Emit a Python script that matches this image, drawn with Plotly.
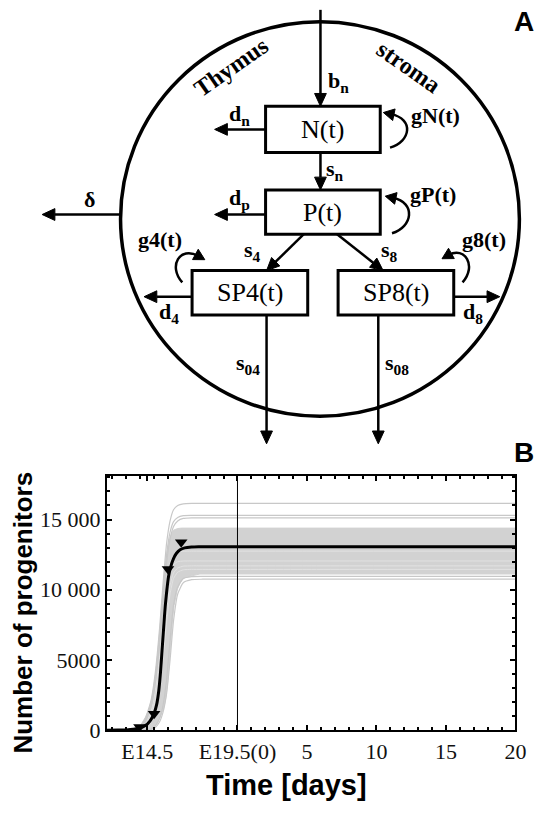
import math
import plotly.graph_objects as go

# ---------------- data (panel B) ----------------
black_days = [-9.4, -8.6, -8.0, -7.5, -7.08, -6.6, -6.3, -6.02, -5.82, -5.66, -5.54, -5.43, -5.31,
              -5.20, -5.08, -4.96, -4.8, -4.61, -4.4, -4.13, -3.8, -3.31, -2.8, 5, 20]
black_vals = [0, 5, 20, 60, 140, 350, 650, 1145, 1800, 2826, 4100, 5630, 7300,
              8800, 10000, 10950, 11650, 12200, 12580, 12840, 12980, 13040, 13060, 13060, 13060]

obs_days = [-7.05, -6.0, -5.0, -4.05]
obs_vals = [230, 1170, 11470, 13385]

band_upper_days = [-7.4, -7.0, -6.61, -6.35, -6.14, -5.95, -5.78, -5.65, -5.55, -5.45, -5.38, -5.28, -5.2,
                   -5.08, -4.96, -4.8, -4.61, -4.3, -4.02, 20]
band_upper_vals = [0, 300, 940, 1550, 2340, 3400, 4670, 5800, 7010, 8200, 9340, 10600, 11670,
                   12600, 13300, 13850, 14240, 14360, 14390, 14390]
band_lower_days = [-6.3, -5.9, -5.55, -5.3, -5.15, -5.02, -4.92, -4.83, -4.75, -4.66, -4.56, -4.44, -4.32,
                   -4.12, -3.95, -3.7, -3.4, -3.05, -2.7, 20]
band_lower_vals = [0, 300, 940, 1600, 2340, 3400, 4670, 5850, 7010, 8000, 8880, 9550, 10050,
                   10500, 10750, 10900, 10980, 11060, 11120, 11120]

gray_days = [-9.4, -7.6, -7.0, -6.6, -6.2, -5.9, -5.6, -5.35, -5.1, -4.85, -4.6, -4.3, -3.9, -3.3, -2.5, 5, 20]
gray_top1 = [0, 30, 300, 900, 2200, 4200, 7300, 10500, 13300, 14900, 15700, 16000, 16120, 16150, 16150, 16150, 16150]
gray_top2 = [0, 25, 250, 800, 2000, 3900, 6900, 9900, 12500, 14100, 14850, 15150, 15280, 15300, 15300, 15300, 15300]
gray_top3 = [0, 20, 200, 650, 1700, 3400, 6200, 9200, 11900, 13600, 14500, 14900, 15080, 15120, 15120, 15120, 15120]
gray_low1 = [0, 2, 8, 20, 60, 200, 600, 1300, 2600, 5000, 7800, 9700, 10500, 10720, 10750, 10750, 10750]
gray_low2 = [0, 3, 10, 30, 90, 320, 850, 1800, 3600, 6400, 8900, 10200, 10800, 10930, 10950, 10950, 10950]
inner_lines = [
    [0, 15, 150, 500, 1400, 2900, 5300, 8000, 10500, 11900, 12450, 12680, 12740, 12750, 12750, 12750, 12750],
    [0, 10, 100, 380, 1100, 2300, 4400, 7000, 9600, 11200, 11800, 12000, 12045, 12050, 12050, 12050, 12050],
    [0, 8, 80, 300, 900, 1900, 3700, 6000, 8500, 10300, 11200, 11550, 11680, 11700, 11700, 11700, 11700],
    [0, 5, 60, 220, 700, 1500, 3000, 5200, 7700, 9700, 10800, 11250, 11420, 11450, 11450, 11450, 11450],
]

x_tickvals = [-6.49, 0, 5, 10, 15, 20]
x_ticktext = ["E14.5", "E19.5(0)", "5", "10", "15", "20"]
y_tickvals = [0, 5000, 10000, 15000]
y_ticktext = ["0", "5000", "10 000", "15 000"]
birth_day = 0

# ---------------- figure ----------------
W, H = 550, 815
fig = go.Figure()

fig.add_trace(go.Scatter(
    x=band_upper_days + band_lower_days[::-1],
    y=band_upper_vals + band_lower_vals[::-1],
    fill="toself", fillcolor="#d2d2d2", mode="lines",
    line=dict(color="#d2d2d2", width=1),
    hoverinfo="skip", showlegend=False))
for vals in inner_lines:
    fig.add_trace(go.Scatter(x=gray_days, y=vals, mode="lines",
                             line=dict(color="#e2e2e2", width=1, shape="spline", smoothing=0.5),
                             hoverinfo="skip", showlegend=False))
for vals in [gray_top1, gray_top2, gray_top3, gray_low1, gray_low2]:
    fig.add_trace(go.Scatter(x=gray_days, y=vals, mode="lines",
                             line=dict(color="#c8c8c8", width=1.2, shape="spline", smoothing=0.5),
                             hoverinfo="skip", showlegend=False))
fig.add_trace(go.Scatter(x=black_days, y=black_vals, mode="lines",
                         line=dict(color="black", width=3, shape="spline", smoothing=0.5),
                         showlegend=False))
fig.add_trace(go.Scatter(x=obs_days, y=obs_vals, mode="markers",
                         marker=dict(symbol="triangle-down", size=11, color="black"),
                         showlegend=False))

fx0, fx1, fy_top, fy_bot = 109, 526, 484, 742
serif = "Liberation Serif"
sans = "Liberation Sans"

axis_common = dict(ticks="inside", ticklen=5, tickwidth=1.5, tickcolor="black",
                   showline=True, linewidth=2, linecolor="black", mirror="allticks",
                   showgrid=False, zeroline=False,
                   tickfont=dict(family=serif, size=22, color="#111"))
fig.update_layout(
    width=W, height=H, autosize=False,
    margin=dict(l=0, r=0, t=0, b=0),
    paper_bgcolor="white", plot_bgcolor="white",
    xaxis=dict(domain=[fx0 / W, fx1 / W], range=[-9.4, 20], anchor="y",
               tickvals=x_tickvals, ticktext=x_ticktext,
               minor=dict(tick0=0, dtick=1, ticks="inside", ticklen=3, tickcolor="black", showgrid=False),
               **axis_common),
    yaxis=dict(domain=[(H - fy_bot) / H, (H - fy_top) / H], range=[0, 18080], anchor="x",
               tickvals=y_tickvals, ticktext=y_ticktext,
               minor=dict(tick0=0, dtick=1000, ticks="inside", ticklen=3, tickcolor="black", showgrid=False),
               **axis_common),
)

shapes = []
shapes.append(dict(type="line", xref="x", yref="y domain", x0=birth_day, x1=birth_day, y0=0, y1=1,
                   line=dict(color="black", width=1)))

# ---------------- panel A diagram (pixel positions converted to paper fractions) ----------------
P = dict(xref="paper", yref="paper")
C = dict(xanchor="center", yanchor="middle", showarrow=False)
LW = 2.5


def X(px):
    return px / W


def Y(py):
    return 1 - py / H


def head(tip, frm, L=13, w=6):
    ux, uy = tip[0] - frm[0], tip[1] - frm[1]
    n = math.hypot(ux, uy)
    ux, uy = ux / n, uy / n
    bx, by = tip[0] - L * ux, tip[1] - L * uy
    px, py = -uy, ux
    pts = [(tip[0], tip[1]), (bx + w * px, by + w * py), (bx - w * px, by - w * py)]
    p = "M " + " L ".join(f"{X(a):.5f} {Y(b):.5f}" for a, b in pts) + " Z"
    shapes.append(dict(type="path", path=p, fillcolor="black", line=dict(color="black", width=1), **P))
    return bx, by


def arrow(tail, tip):
    bx, by = head(tip, tail)
    shapes.append(dict(type="line", x0=X(tail[0]), y0=Y(tail[1]), x1=X(bx), y1=Y(by),
                       line=dict(color="black", width=LW), **P))


shapes.append(dict(type="circle", x0=X(123), x1=X(530), y0=Y(22), y1=Y(423),
                   line=dict(color="black", width=3.5), **P))
boxes = {"N(t)": (271, 108, 388, 155), "P(t)": (271, 193, 388, 238),
         "SP4(t)": (196, 275, 314, 320), "SP8(t)": (345, 275, 463, 320)}
for name, (x0, y0, x1, y1) in boxes.items():
    shapes.append(dict(type="rect", x0=X(x0), y0=Y(y0), x1=X(x1), y1=Y(y1), fillcolor="white",
                       line=dict(color="black", width=3), **P))

arrow((327, 10), (327, 108))        # b_n
arrow((271, 131.5), (219, 131.5))   # d_n
arrow((327, 155), (327, 193))       # s_n
arrow((271, 218), (219, 218))       # d_p
arrow((123, 218), (43, 218))        # delta
arrow((310, 238), (272, 275))       # s4
arrow((344, 238), (391, 275))       # s8
arrow((196, 301.5), (147, 301.5))   # d4
arrow((463, 301.5), (510, 301.5))   # d8
arrow((272, 320), (272, 451))       # s04
arrow((386, 320), (386, 451))       # s08

# curved self-renewal arrows: start, ctrl1, ctrl2, end
curves = [
    ((398, 150), (419, 144), (423, 121), (399, 116)),
    ((400, 237), (421, 231), (425, 206), (401, 201)),
    ((186, 287), (171, 270), (184, 250), (202, 260)),
    ((472, 287), (487, 270), (474, 250), (458, 259)),
]
for s, c1, c2, e in curves:
    path = (f"M {X(s[0]):.5f} {Y(s[1]):.5f} C {X(c1[0]):.5f} {Y(c1[1]):.5f}, "
            f"{X(c2[0]):.5f} {Y(c2[1]):.5f}, {X(e[0]):.5f} {Y(e[1]):.5f}")
    shapes.append(dict(type="path", path=path, line=dict(color="black", width=LW), **P))
    ux, uy = e[0] - c2[0], e[1] - c2[1]
    n = math.hypot(ux, uy)
    tip = (e[0] + 8 * ux / n, e[1] + 8 * uy / n)
    head(tip, e, L=11, w=6)

annotations = []
for name, (x0, y0, x1, y1) in boxes.items():
    annotations.append(dict(x=X((x0 + x1) / 2), y=Y((y0 + y1) / 2), text=name,
                            font=dict(family=serif, size=26, color="black"), **C, **P))

labels = [
    ("b<sub>n</sub>", 345, 83),
    ("d<sub>n</sub>", 244, 117),
    ("gN(t)", 444, 117),
    ("s<sub>n</sub>", 342, 173),
    ("d<sub>p</sub>", 244, 202),
    ("gP(t)", 442, 198),
    ("δ", 91, 203),
    ("g4(t)", 163, 243),
    ("g8(t)", 494, 243),
    ("s<sub>4</sub>", 258, 255),
    ("s<sub>8</sub>", 397, 255),
    ("d<sub>4</sub>", 172, 318),
    ("d<sub>8</sub>", 483, 318),
    ("s<sub>04</sub>", 253, 370),
    ("s<sub>08</sub>", 405, 370),
]
for txt, x, y in labels:
    annotations.append(dict(x=X(x), y=Y(y), text=txt,
                            font=dict(family=serif, size=22, color="black", weight="bold"), **C, **P))
annotations.append(dict(x=X(236), y=Y(68), text="Thymus", textangle=-35,
                        font=dict(family=serif, size=24, color="black", weight="bold"), **C, **P))
annotations.append(dict(x=X(417), y=Y(68), text="stroma", textangle=35,
                        font=dict(family=serif, size=24, color="black", weight="bold"), **C, **P))
annotations.append(dict(x=X(535), y=Y(22), text="A",
                        font=dict(family=sans, size=28, color="black", weight="bold"), **C, **P))
annotations.append(dict(x=X(535), y=Y(460), text="B",
                        font=dict(family=sans, size=28, color="black", weight="bold"), **C, **P))

annotations.append(dict(x=X(24), y=Y(623), text="Number of progenitors", textangle=-90,
                        font=dict(family=sans, size=26, color="black", weight="bold"), **C, **P))
annotations.append(dict(x=X(292), y=Y(798), text="Time [days]",
                        font=dict(family=sans, size=29, color="black", weight="bold"), **C, **P))

fig.update_layout(shapes=shapes, annotations=annotations)
fig.write_html("out.html", config={"displayModeBar": False})
